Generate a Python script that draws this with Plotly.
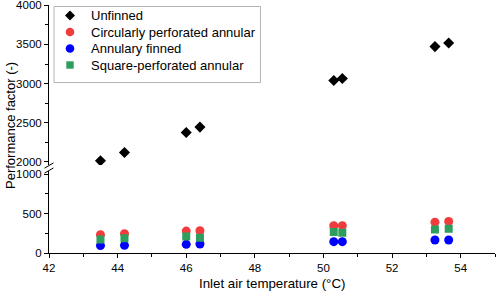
import plotly.graph_objects as go

temps = [43.5, 44.2, 46.0, 46.4, 50.3, 50.55, 53.25, 53.65]
unfinned = [2015, 2120, 2375, 2445, 3040, 3065, 3472, 3518]
circ_perf = [233, 245, 278, 283, 347, 347, 392, 401]
annular = [94, 97, 110, 114, 144, 144, 165, 165]
square_perf = [173, 186, 211, 195, 266, 258, 300, 309]

series_names = ["Unfinned", "Circularly perforated annular", "Annulary finned", "Square-perforated annular"]
series_colors = ["black", "#f03c3c", "#0000ff", "#2e9e5e"]

FONT = "Liberation Sans, Arial, sans-serif"
fig = go.Figure()

fig.add_trace(go.Scatter(x=temps, y=unfinned, mode="markers", name=series_names[0],
                         marker=dict(symbol="diamond", size=8.5, color=series_colors[0]),
                         xaxis="x", yaxis="y2"))
fig.add_trace(go.Scatter(x=temps, y=circ_perf, mode="markers", name=series_names[1],
                         marker=dict(symbol="circle", size=9, color=series_colors[1]),
                         xaxis="x", yaxis="y"))
fig.add_trace(go.Scatter(x=temps, y=annular, mode="markers", name=series_names[2],
                         marker=dict(symbol="circle", size=9, color=series_colors[2]),
                         xaxis="x", yaxis="y"))
fig.add_trace(go.Scatter(x=temps, y=square_perf, mode="markers", name=series_names[3],
                         marker=dict(symbol="square", size=8, color=series_colors[3]),
                         xaxis="x", yaxis="y"))

axcommon = dict(showgrid=False, zeroline=False, showline=True, linecolor="black", linewidth=1,
                ticks="outside", ticklen=4, tickcolor="black", automargin=False,
                ticklabeloverflow="allow",
                tickfont=dict(family=FONT, size=11.5, color="black"))

L, R, T, B, W, H = 49, 3, 5, 43, 498, 296
PW, PH = W - L - R, H - T - B

def px(x):
    return (x - L) / PW

def py(y):
    return (H - B - y) / PH

fig.update_layout(
    width=W, height=H,
    margin=dict(l=L, r=R, t=T, b=B, autoexpand=False),
    paper_bgcolor="white", plot_bgcolor="white",
    font=dict(family=FONT, size=13, color="black"),
    xaxis=dict(range=[42, 55], dtick=2, tick0=42,
               minor=dict(dtick=1, ticks="outside", ticklen=3, tickcolor="black"),
               anchor="y", **axcommon),
    yaxis=dict(domain=[0, 0.33], range=[0, 1040], tickvals=[0, 500, 1000],
               minor=dict(tickvals=[250, 750], ticks="outside", ticklen=3, tickcolor="black"),
               anchor="x", **axcommon),
    yaxis2=dict(domain=[0.355, 1], range=[1962, 4003], tickvals=[2000, 2500, 3000, 3500, 4000],
                minor=dict(tickvals=[2250, 2750, 3250, 3750], ticks="outside", ticklen=3, tickcolor="black"),
                anchor="x", **axcommon),
    showlegend=False,
)

fig.add_annotation(text="Performance factor (-)", textangle=-90, xref="paper", yref="paper",
                   x=px(10), y=py(126), xanchor="center", yanchor="middle", showarrow=False,
                   font=dict(family=FONT, size=13, color="black"))
fig.add_annotation(text="Inlet air temperature (°C)", xref="paper", yref="paper",
                   x=0.5, y=py(283), xanchor="center", yanchor="middle", showarrow=False,
                   font=dict(family=FONT, size=13.3, color="black"))

# axis break marks
for dy in (0, 5):
    fig.add_shape(type="line", xref="paper", yref="paper",
                  x0=-0.01, x1=0.01, y0=0.322 + dy / PH, y1=0.343 + dy / PH,
                  line=dict(color="black", width=1))

# custom legend (compact, like the reference)
fig.add_shape(type="rect", xref="paper", yref="paper",
              x0=px(54), x1=px(260.5), y0=py(82.5), y1=py(6.5),
              line=dict(color="#b4b4b4", width=1), fillcolor="white", layer="above")
rows = [15.5, 32, 48.5, 65]
mx = px(70)
for i, (name, col, yrow) in enumerate(zip(series_names, series_colors, rows)):
    if i == 0:
        fig.add_shape(type="path", xref="paper", yref="paper", xsizemode="pixel", ysizemode="pixel",
                      xanchor=mx, yanchor=py(yrow), path="M -5 0 L 0 5 L 5 0 L 0 -5 Z",
                      fillcolor=col, line=dict(width=0), layer="above")
    elif i in (1, 2):
        fig.add_shape(type="circle", xref="paper", yref="paper", xsizemode="pixel", ysizemode="pixel",
                      xanchor=mx, yanchor=py(yrow), x0=-4.3, x1=4.3, y0=-4.3, y1=4.3,
                      fillcolor=col, line=dict(width=0), layer="above")
    else:
        fig.add_shape(type="rect", xref="paper", yref="paper", xsizemode="pixel", ysizemode="pixel",
                      xanchor=mx, yanchor=py(yrow), x0=-3.7, x1=3.7, y0=-3.7, y1=3.7,
                      fillcolor=col, line=dict(width=0), layer="above")
    fig.add_annotation(text=name, xref="paper", yref="paper", x=px(89), y=py(yrow),
                       xanchor="left", yanchor="middle", showarrow=False,
                       font=dict(family=FONT, size=13, color="black"))

fig.write_html("out.html", config={"displayModeBar": False},
               post_script="document.body.style.margin='0';document.body.style.padding='0';")
